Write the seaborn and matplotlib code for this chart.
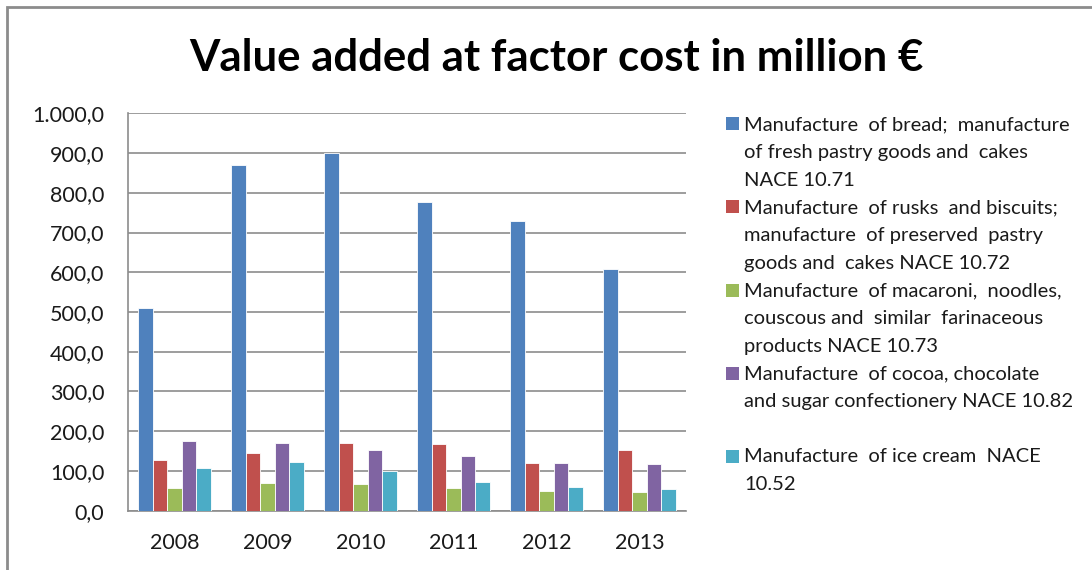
import matplotlib
matplotlib.use("Agg")
import matplotlib.pyplot as plt
import seaborn as sns
import pandas as pd
from matplotlib.patches import Rectangle
from matplotlib.ticker import FuncFormatter, MultipleLocator

years = ["2008", "2009", "2010", "2011", "2012", "2013"]
series_labels = [
    "Manufacture  of bread;  manufacture\nof fresh pastry goods and  cakes\nNACE 10.71",
    "Manufacture  of rusks  and biscuits;\nmanufacture  of preserved  pastry\ngoods and  cakes NACE 10.72",
    "Manufacture  of macaroni,  noodles,\ncouscous and  similar  farinaceous\nproducts NACE 10.73",
    "Manufacture  of cocoa, chocolate\nand sugar confectionery NACE 10.82",
    "Manufacture  of ice cream  NACE\n10.52",
]
bread = [509, 870, 900, 777, 728, 607]
rusks = [128, 146, 171, 167, 121, 153]
macaroni = [57, 69, 66, 57, 50, 47]
cocoa = [175, 171, 153, 137, 121, 118]
icecream = [107, 122, 99, 72, 60, 54]
colors = ["#4F81BD", "#C0504D", "#9BBB59", "#8064A2", "#4BACC6"]
title = "Value added at factor cost in million €"

values = [bread, rusks, macaroni, cocoa, icecream]
keys = ["s1", "s2", "s3", "s4", "s5"]
rows = []
for k, vals in zip(keys, values):
    for y, v in zip(years, vals):
        rows.append({"year": y, "series": k, "value": v})
df = pd.DataFrame(rows)

sns.set_theme(style="white")
plt.rcParams["font.family"] = ["Lato", "DejaVu Sans"]

fig = plt.figure(figsize=(10.92, 5.70), dpi=100)
ax = fig.add_axes([128 / 1092, 1 - 510.7 / 570, (686 - 128) / 1092, (510.7 - 113.3) / 570])

sns.barplot(data=df, x="year", y="value", hue="series", hue_order=keys,
            palette=colors, width=0.78, edgecolor="white", linewidth=0.6,
            saturation=1, legend=False, ax=ax, zorder=3)

ax.set_ylim(0, 1000)
ax.yaxis.set_major_locator(MultipleLocator(100))
ax.yaxis.set_major_formatter(FuncFormatter(
    lambda v, p: f"{v:,.1f}".replace(",", "X").replace(".", ",").replace("X", ".")))
ax.grid(axis="y", color="#8c8c8c", linewidth=1.2, zorder=0)
ax.set_axisbelow(True)
ax.set_xlabel("")
ax.set_ylabel("")
for s in ["top", "right"]:
    ax.spines[s].set_visible(False)
for s in ["left", "bottom"]:
    ax.spines[s].set_color("#8c8c8c")
    ax.spines[s].set_linewidth(1.2)
ax.tick_params(axis="both", length=0, labelsize=15.5, colors="#1a1a1a")
ax.tick_params(axis="y", pad=17)
ax.tick_params(axis="x", pad=16)

fig.text(556 / 1092, 1 - 58 / 570, title, ha="center", va="center",
         fontsize=31.5, fontweight="bold", color="black")

# legend
entry_y = [124, 207, 290, 373, 456]
for lab, col, yc in zip(series_labels, colors, entry_y):
    fig.patches.append(Rectangle((726 / 1092, 1 - (yc + 6.5) / 570), 13 / 1092, 13 / 570,
                                 transform=fig.transFigure, facecolor=col,
                                 edgecolor="none"))
    fig.text(744 / 1092, 1 - (yc - 8) / 570, lab, ha="left", va="top",
             fontsize=14.5, linespacing=1.78, color="#1a1a1a")

# chart border (top and left edges only visible)
fig.patches.append(Rectangle((7 / 1092, -0.05), 1.2, 1.05 - 7 / 570,
                             transform=fig.transFigure, facecolor="none",
                             edgecolor="#8c8c8c", linewidth=2))

fig.savefig("out.png", dpi=100)
